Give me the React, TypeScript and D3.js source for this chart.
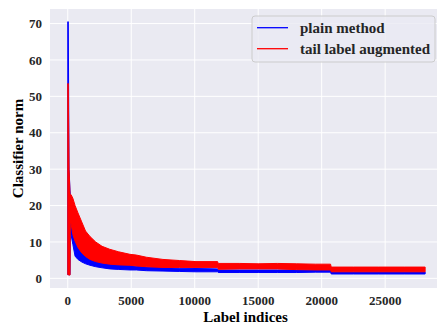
import React from 'react';
import * as d3 from 'd3';

// envelope of the noisy per-label norms
const labelIdx = [0, 40, 100, 180, 200, 260, 400, 575, 800, 1100, 1400, 1750, 2200, 2700, 3300, 4000, 4900, 5400, 6200, 7500, 8800, 10100, 11800, 11850, 13500, 15000, 16500, 18000, 19500, 20700, 20750, 22500, 24500, 26500, 28150];
const plainHi = [70.5, 70.5, 30, 24, 23, 22, 15, 11, 9, 7.5, 6.5, 6.1, 5.5, 5.0, 4.4, 4.0, 3.5, 3.3, 3.1, 2.9, 2.8, 2.7, 2.6, 2.3, 2.3, 2.3, 2.3, 2.3, 2.3, 2.3, 1.75, 1.75, 1.75, 1.75, 1.75];
const plainLo = [1.0, 1.0, 1.0, 1.0, 12, 12, 9.3, 6.1, 5.2, 4.5, 4.0, 3.6, 3.2, 2.9, 2.6, 2.45, 2.3, 2.3, 2.1, 2.0, 1.9, 1.8, 1.8, 1.6, 1.6, 1.6, 1.6, 1.6, 1.7, 1.7, 1.2, 1.2, 1.2, 1.2, 1.2];
const tailHi = [53.5, 53.5, 30, 23, 23, 23, 22, 20, 18, 15.5, 13, 11.5, 10, 8.8, 8.0, 7.3, 6.6, 6.4, 5.8, 5.2, 4.9, 4.6, 4.6, 4.1, 4.1, 4.0, 4.1, 4.0, 3.9, 3.9, 3.1, 3.1, 3.1, 3.1, 3.1];
const tailLo = [1.0, 1.0, 0.9, 0.9, 15, 15, 12, 10.2, 8.5, 7.0, 6.0, 5.2, 4.6, 4.2, 3.9, 3.7, 3.6, 3.4, 3.2, 3.0, 3.0, 3.0, 3.0, 2.5, 2.6, 2.6, 2.6, 2.4, 2.3, 2.3, 1.8, 1.8, 1.8, 1.8, 1.8];

const xTicks = [0, 5000, 10000, 15000, 20000, 25000];
const yTicks = [0, 10, 20, 30, 40, 50, 60, 70];
const seriesNames = ['plain method', 'tail label augmented'];
const seriesColors = ['#0000ff', '#ff0000'];

const W = 437, H = 325;
const left = 50, right = 441, top = 9, bottom = 288;
const font = '"Liberation Serif", "Times New Roman", serif';

export default function App() {
  const x = d3.scaleLinear().domain([-1400, 29400]).range([left, right]);
  const y = d3.scaleLinear().domain([-2.65, 74]).range([bottom, top]);

  const band = (lo: number[], hi: number[]) =>
    d3.area<number>()
      .x((d) => x(labelIdx[d]))
      .y0((d) => y(lo[d]))
      .y1((d) => y(hi[d]))(labelIdx.map((_, i) => i)) || '';

  const bands = [band(plainLo, plainHi), band(tailLo, tailHi)];

  return (
    <svg width={W} height={H} style={{ position: 'absolute', left: 0, top: 0 }}>
      <defs>
        <clipPath id="plot">
          <rect x={left} y={top} width={right - left} height={bottom - top} />
        </clipPath>
      </defs>
      <rect x={left} y={top} width={right - left} height={bottom - top} fill="#eaeaf2" />
      {xTicks.map((t) => (
        <line key={'gx' + t} x1={x(t)} x2={x(t)} y1={top} y2={bottom} stroke="#fff" strokeWidth={1} />
      ))}
      {yTicks.map((t) => (
        <line key={'gy' + t} x1={left} x2={right} y1={y(t)} y2={y(t)} stroke="#fff" strokeWidth={1} />
      ))}
      <g clipPath="url(#plot)">
        {bands.map((p, i) => (
          <path key={i} d={p} fill={seriesColors[i]} stroke={seriesColors[i]} strokeWidth={1} strokeLinejoin="round" />
        ))}
      </g>
      <g fontFamily={font} fontWeight="bold" fontSize={13} fill="#262626">
        {xTicks.map((t) => (
          <text key={'tx' + t} x={x(t)} y={305} textAnchor="middle">{t}</text>
        ))}
        {yTicks.map((t) => (
          <text key={'ty' + t} x={42} y={y(t)} dy="0.35em" textAnchor="end">{t}</text>
        ))}
      </g>
      <g fontFamily={font} fontWeight="bold" fontSize={15} fill="#000">
        <text x={(left + 441) / 2} y={322} textAnchor="middle">Label indices</text>
        <text transform={`translate(23,${(top + bottom) / 2}) rotate(-90)`} textAnchor="middle">Classifier norm</text>
      </g>
      <g>
        <rect x={252} y={16} width={183} height={46} rx={3} fill="#eaeaf2" fillOpacity={0.8} stroke="#cccccc" strokeWidth={1} />
        {seriesNames.map((n, i) => (
          <g key={n}>
            <line x1={257} x2={288} y1={27.7 + i * 21} y2={27.7 + i * 21} stroke={seriesColors[i]} strokeWidth={1.3} />
            <text x={300} y={33 + i * 21} fontFamily={font} fontWeight="bold" fontSize={15} fill="#262626">{n}</text>
          </g>
        ))}
      </g>
    </svg>
  );
}
